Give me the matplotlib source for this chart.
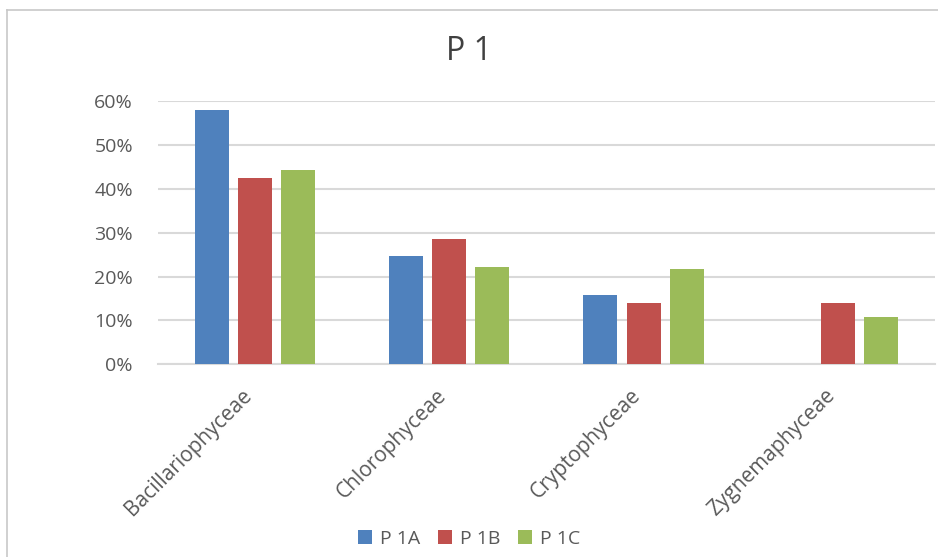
import numpy as np
import matplotlib.pyplot as plt
from matplotlib.patches import Patch
from matplotlib.lines import Line2D
from matplotlib.ticker import FuncFormatter
from matplotlib.transforms import ScaledTranslation

plt.rcParams['font.family'] = ['Open Sans', 'DejaVu Sans']

classes = ['Bacillariophyceae', 'Chlorophyceae', 'Cryptophyceae', 'Zygnemaphyceae']
series_names = ['P 1A', 'P 1B', 'P 1C']
p1a = [0.580, 0.248, 0.157, 0.0]
p1b = [0.426, 0.285, 0.139, 0.139]
p1c = [0.444, 0.222, 0.217, 0.108]
yticks = [0.0, 0.1, 0.2, 0.3, 0.4, 0.5, 0.6]

colors = ['#4F81BD', '#C0504D', '#9BBB59']
grid_col = '#D9D9D9'
text_col = '#595959'

fig = plt.figure(figsize=(9.38, 5.57), dpi=100)
ax = fig.add_axes([0.1684, 0.346, 0.9968 - 0.1684, 0.818 - 0.346])

x = np.arange(len(classes))
step = 0.222
width = 0.175
for i, (vals, col) in enumerate(zip([p1a, p1b, p1c], colors)):
    ax.bar(x + (i - 1) * step, vals, width, color=col, zorder=3)

ax.set_xlim(-0.5, len(classes) - 0.5)
ax.set_ylim(0, 0.6)
ax.set_yticks(yticks)
ax.yaxis.set_major_formatter(FuncFormatter(lambda v, _: f'{v * 100:.0f}%'))
ax.grid(axis='y', color=grid_col, linewidth=1.5, zorder=0)
for s in ['top', 'right', 'left']:
    ax.spines[s].set_visible(False)
ax.spines['bottom'].set_color(grid_col)
ax.spines['bottom'].set_linewidth(1.5)

ax.tick_params(axis='y', length=0, pad=18, labelsize=14, labelcolor=text_col)
ax.tick_params(axis='x', length=0, pad=20, labelsize=15, labelcolor=text_col)
ax.set_xticks(x)
ax.set_xticklabels(classes, rotation=45, ha='right', va='center', rotation_mode='anchor')
# nudge the rotated category names a little to the left
shift = ScaledTranslation(-6 / 100, 0, fig.dpi_scale_trans)
for lbl in ax.get_xticklabels():
    lbl.set_transform(lbl.get_transform() + shift)

fig.text(0.5, 1 - 52 / 557, 'P 1', ha='center', va='center', fontsize=23, color='#404040')

handles = [Patch(facecolor=c, edgecolor='none') for c in colors]
fig.legend(handles, series_names, loc='center', bbox_to_anchor=(0.5, 1 - 539 / 557),
           ncol=3, frameon=False, fontsize=14, labelcolor=text_col,
           handlelength=0.75, handleheight=0.75, handletextpad=0.4, columnspacing=0.9)

# chart frame (top and left edges)
fig.add_artist(Line2D([6.5 / 938, 1.0], [1 - 10 / 557, 1 - 10 / 557], color='#C8C8C8', linewidth=1.2,
                      transform=fig.transFigure))
fig.add_artist(Line2D([6.5 / 938, 6.5 / 938], [0.0, 1 - 10 / 557], color='#C8C8C8', linewidth=1.2,
                      transform=fig.transFigure))

fig.savefig('out.png', dpi=100)
